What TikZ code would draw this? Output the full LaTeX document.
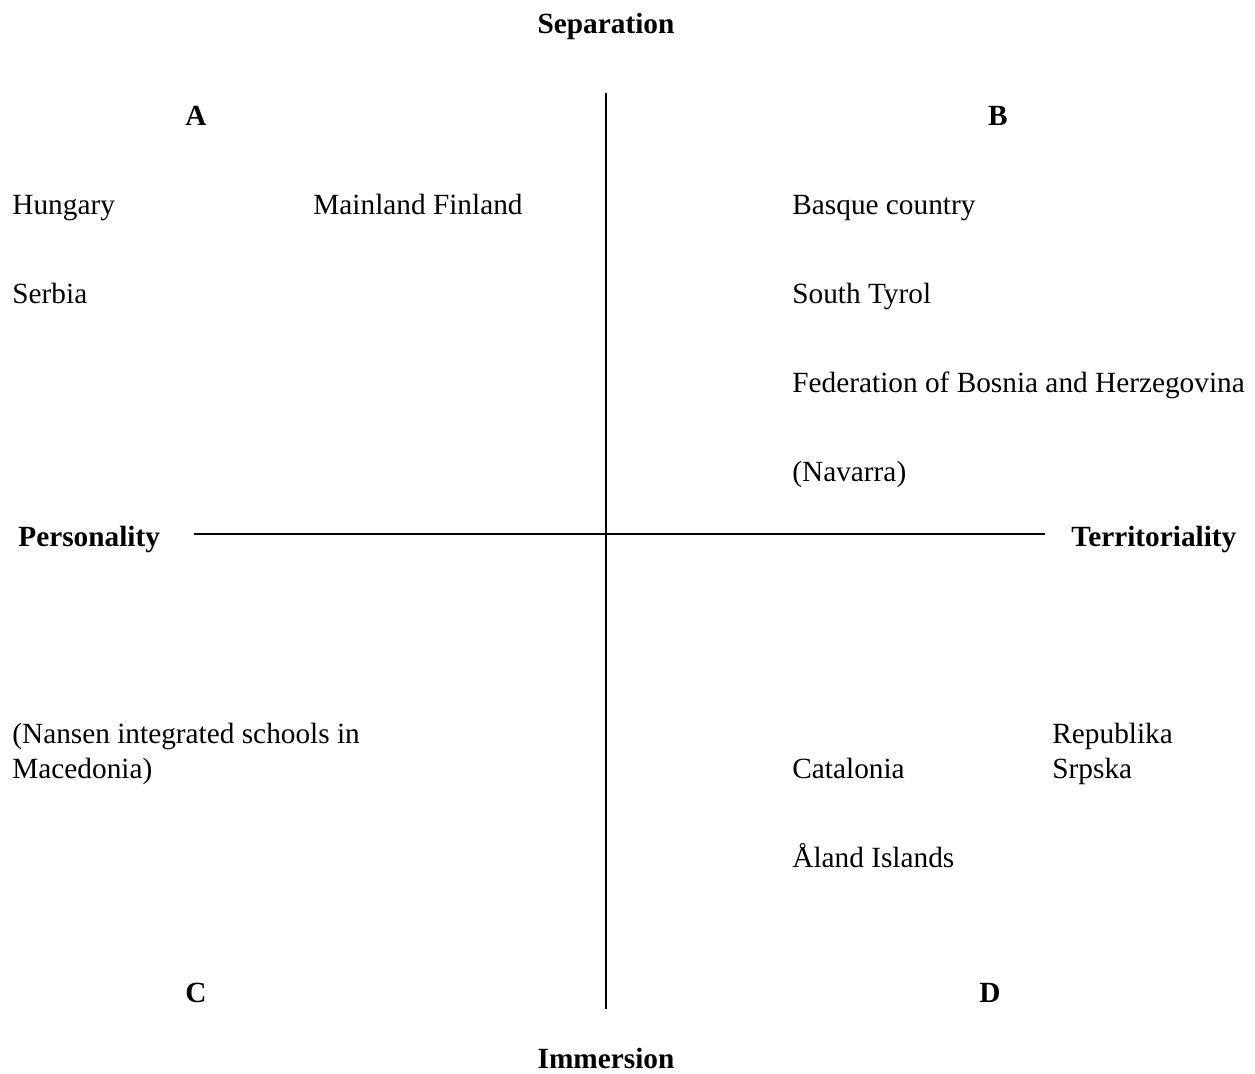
\documentclass[tikz,border=0pt]{standalone}
\usepackage{fontspec}
\setmainfont{Liberation Serif}
\begin{document}
\begin{tikzpicture}[x=0.5pt,y=-0.5pt,
  lbl/.style={anchor=base west,inner sep=0pt,font=\fontsize{14.65}{17}\selectfont},
  hd/.style={anchor=base,inner sep=0pt,font=\fontsize{14.65}{17}\selectfont\bfseries},
  axis/.style={line width=1pt,black}]
\useasboundingbox (0,0) rectangle (1255,1073);
% axes
\coordinate (vtop) at (606,93);
\coordinate (vbot) at (606,1009);
\coordinate (hl) at (194,534);
\coordinate (hr) at (1045,534);
\draw[axis] (vtop) -- (vbot);
\draw[axis] (hl) -- (hr);
% headings
\node[hd] (sep) at (606,33) {Separation};
\node[hd] (imm) at (606,1068) {Immersion};
\node[hd,anchor=base west] (pers) at (18,546) {Personality};
\node[hd,anchor=base west] (terr) at (1071,546) {Territoriality};
\node[hd] (qa) at (196,125) {A};
\node[hd] (qb) at (998,125) {B};
\node[hd] (qc) at (196,1002) {C};
\node[hd] (qd) at (990,1002) {D};
% quadrant A
\node[lbl] (hun) at (12,214) {Hungary};
\node[lbl] (mfin) at (313,214) {Mainland Finland};
\node[lbl] (ser) at (12,303) {Serbia};
% quadrant B
\node[lbl] (bas) at (792,214) {Basque country};
\node[lbl] (sty) at (792,303) {South Tyrol};
\node[lbl] (fbh) at (792,392) {Federation of Bosnia and Herzegovina};
\node[lbl] (nav) at (792,481) {(Navarra)};
% quadrant C
\node[lbl] (nan1) at (12,743) {(Nansen integrated schools in};
\node[lbl] (nan2) at (12,778) {Macedonia)};
% quadrant D
\node[lbl] (rep1) at (1052,743) {Republika};
\node[lbl] (rep2) at (1052,778) {Srpska};
\node[lbl] (cat) at (792,778) {Catalonia};
\node[lbl] (ala) at (792,867) {Åland Islands};
\end{tikzpicture}
\end{document}
